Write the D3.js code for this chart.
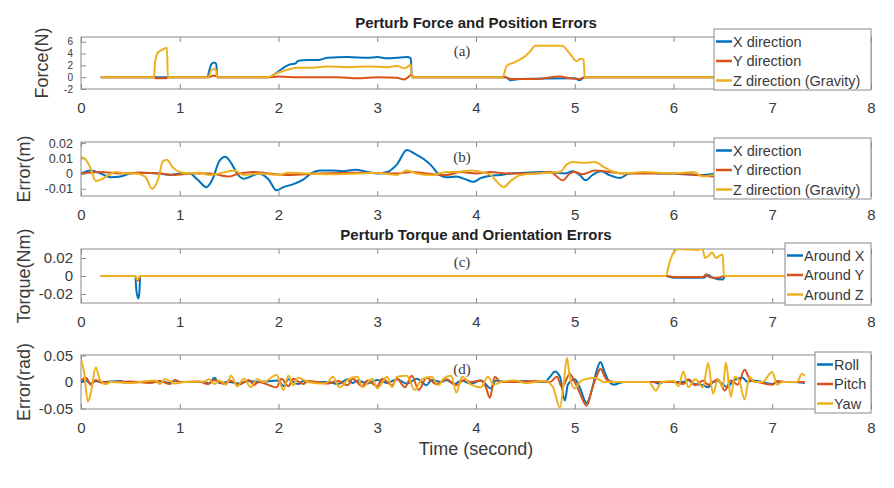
<!DOCTYPE html>
<html><head><meta charset="utf-8">
<script src="https://cdn.jsdelivr.net/npm/d3@7"></script>
<style>body{margin:0;background:#fff}svg{display:block}</style>
</head><body>
<svg id="c" width="894" height="488"></svg>
<script>
// ---------- data ----------
const xTicks = [0,1,2,3,4,5,6,7,8];
const colors = ["#0072BD","#D95319","#EDB120"];

// (a) Force (N)
const aTicks = [-2,0,2,4,6];
const aLegend = ["X direction","Y direction","Z direction (Gravity)"];
const aX = [[0.2,0],[1.28,0],[1.3,1.2],[1.32,2.2],[1.35,2.5],[1.37,2.2],[1.38,0],[1.9,0],[2.0,1.0],[2.07,1.8],[2.12,2.2],[2.17,2.3],[2.2,2.8],[2.3,2.9],[2.4,2.9],[2.5,3.3],[2.7,3.4],[2.9,3.3],[3.0,3.4],[3.1,3.2],[3.2,3.3],[3.3,3.4],[3.34,3.2],[3.35,0],[4.3,0],[4.35,-0.5],[4.45,-0.3],[5.0,-0.2],[5.05,-0.5],[5.1,0],[7.35,0]];
const aY = [[0.2,0],[0.74,0],[0.76,-0.2],[0.86,-0.2],[0.88,0],[1.3,0],[1.34,0.3],[1.37,0.2],[1.38,0],[1.9,0],[2.0,0.1],[2.2,0],[2.6,0],[2.8,-0.2],[3.0,0],[3.2,-0.1],[3.27,-0.4],[3.32,0.1],[3.35,0.5],[3.36,0],[4.3,0],[4.35,-0.3],[4.6,-0.3],[4.85,0.1],[4.95,-0.2],[5.05,-0.3],[5.1,0],[7.35,0]];
const aZ = [[0.2,0],[0.74,0],[0.75,2.5],[0.78,4.2],[0.82,4.6],[0.87,5.0],[0.88,0],[1.29,0],[1.32,1.2],[1.35,1.4],[1.37,1.1],[1.38,0],[1.88,0],[2.0,0.8],[2.1,1.3],[2.2,1.6],[2.3,1.6],[2.5,1.8],[2.7,1.7],[2.9,1.8],[3.1,1.7],[3.2,1.9],[3.28,1.5],[3.34,2.1],[3.35,0],[4.27,0],[4.31,1.9],[4.4,2.6],[4.5,3.6],[4.55,4.4],[4.6,5.3],[4.87,5.3],[4.95,4.0],[5.02,2.7],[5.06,3.1],[5.09,3.0],[5.1,0],[7.35,0]];

// (b) Position error (m)
const bTicks = [-0.01,0,0.01,0.02];
const bLegend = ["X direction","Y direction","Z direction (Gravity)"];
const bX = [[0,0],[0.1,0.002],[0.2,0],[0.3,-0.0025],[0.4,-0.002],[0.5,0],[0.6,0.0005],[0.8,0],[0.9,-0.001],[1.0,0],[1.1,0],[1.18,-0.004],[1.27,-0.009],[1.33,-0.004],[1.4,0.008],[1.46,0.011],[1.52,0.007],[1.58,0],[1.65,-0.0035],[1.72,-0.002],[1.8,0],[1.9,-0.004],[1.98,-0.011],[2.05,-0.009],[2.15,-0.007],[2.25,-0.004],[2.33,0],[2.42,0.002],[2.55,0.002],[2.65,0.0015],[2.78,0.0025],[2.9,0.001],[3.0,0],[3.1,0.001],[3.2,0.006],[3.3,0.0155],[3.38,0.013],[3.47,0.0095],[3.55,0.005],[3.63,-0.001],[3.7,-0.0025],[3.8,-0.002],[3.9,-0.004],[3.97,-0.0055],[4.05,-0.003],[4.15,-0.0015],[4.25,-0.001],[4.35,0],[4.5,0.0005],[4.65,0.001],[4.8,0.0005],[4.9,0],[4.98,0.0015],[5.05,-0.001],[5.11,-0.0045],[5.18,-0.001],[5.27,0.0015],[5.35,-0.001],[5.46,-0.003],[5.55,0],[5.7,0.0005],[5.9,0],[6.1,-0.0005],[6.3,-0.001],[6.45,0],[6.7,0],[7.35,0]];
const bY = [[0,0],[0.2,0.001],[0.4,0],[0.6,0.0005],[0.8,0],[0.95,-0.001],[1.1,0],[1.3,0],[1.5,-0.002],[1.6,0],[1.75,0.001],[1.9,0],[2.1,-0.001],[2.4,0],[2.8,0.0005],[3.2,0],[3.35,0.001],[3.5,0],[3.7,-0.001],[3.85,0.001],[4.0,0],[4.15,0.001],[4.3,0],[4.6,0],[4.75,0.001],[4.88,-0.0045],[4.95,0],[5.0,0.001],[5.08,-0.0005],[5.2,0.002],[5.35,0.001],[5.5,0],[6.0,0],[6.3,-0.0015],[6.4,-0.002],[6.5,0],[7.35,0]];
const bZ = [[0,0.011],[0.05,0.009],[0.1,0.003],[0.15,-0.005],[0.2,-0.004],[0.28,-0.001],[0.35,0.001],[0.45,0],[0.55,0],[0.65,-0.002],[0.72,-0.01],[0.78,-0.004],[0.83,0.008],[0.87,0.009],[0.93,0.004],[1.0,0.001],[1.1,0],[1.2,0.0005],[1.3,-0.001],[1.4,0],[1.55,0.002],[1.65,-0.001],[1.8,0],[2.0,-0.001],[2.1,0.0005],[2.3,0],[2.5,-0.0005],[2.8,0],[3.0,0.0005],[3.2,-0.001],[3.3,0.002],[3.4,0],[3.55,-0.001],[3.7,0.001],[3.8,0.001],[3.95,0.002],[4.05,0.001],[4.15,-0.001],[4.22,-0.006],[4.28,-0.009],[4.35,-0.005],[4.45,-0.001],[4.6,0],[4.75,0.0005],[4.85,0.001],[4.92,0.006],[4.98,0.0075],[5.1,0.007],[5.2,0.0075],[5.3,0.004],[5.4,0.001],[5.5,0],[5.7,0.001],[6.0,0],[6.2,0.001],[6.3,-0.002],[6.4,-0.001],[6.5,0],[7.35,0]];

// (c) Torque (Nm)
const cTicks = [-0.02,0,0.02];
const cLegend = ["Around X","Around Y","Around Z"];
const cX = [[0.2,0],[0.55,0],[0.56,-0.015],[0.58,-0.025],[0.59,-0.02],[0.6,0],[5.93,0],[6.0,-0.002],[6.3,-0.002],[6.35,0.001],[6.4,-0.002],[6.5,-0.004],[6.52,0],[7.35,0]];
const cY = [[0.2,0],[0.55,0],[0.57,-0.005],[0.59,-0.003],[0.6,0],[5.93,0],[6.0,-0.001],[6.3,-0.001],[6.33,0.002],[6.36,-0.001],[6.45,-0.002],[6.52,0],[7.35,0]];
const cZ = [[0.2,0],[0.55,0],[0.57,-0.004],[0.6,0],[5.92,0],[5.96,0.015],[6.0,0.026],[6.05,0.03],[6.25,0.029],[6.29,0.031],[6.32,0.02],[6.35,0.022],[6.39,0.026],[6.43,0.02],[6.46,0.022],[6.5,0.024],[6.51,0],[7.35,0]];

// (d) Orientation error (rad)
const dTicks = [-0.05,0,0.05];
const dLegend = ["Roll","Pitch","Yaw"];
const dRoll = [[0,0],[0.05,0.003],[0.1,-0.003],[0.15,0.002],[0.2,0],[0.4,0.002],[0.45,-0.001],[0.6,0],[0.8,0.001],[0.9,-0.002],[0.95,0.003],[1.0,0],[1.25,0],[1.3,-0.003],[1.35,0.008],[1.4,-0.002],[1.5,0],[1.6,-0.003],[1.7,0.002],[1.8,0],[2.0,0.003],[2.05,-0.008],[2.1,0.005],[2.2,-0.004],[2.25,0.002],[2.3,0],[2.5,0],[2.6,-0.004],[2.7,0.005],[2.75,-0.002],[2.8,0.003],[2.9,-0.003],[3.0,0.004],[3.1,-0.002],[3.2,0.005],[3.3,-0.003],[3.4,0.006],[3.5,-0.006],[3.55,0.004],[3.65,0],[3.7,0.004],[3.78,-0.004],[3.85,0.003],[3.95,-0.003],[4.05,0.003],[4.15,-0.012],[4.2,0.003],[4.3,0],[4.5,0.002],[4.6,0],[4.7,0.001],[4.75,0.01],[4.8,0.02],[4.85,0.01],[4.9,-0.035],[4.93,-0.005],[5.0,0.005],[5.05,-0.01],[5.12,-0.04],[5.18,-0.01],[5.22,0.02],[5.26,0.038],[5.3,0.02],[5.35,0],[5.4,-0.005],[5.45,-0.002],[5.5,0],[5.8,0],[5.85,-0.003],[5.9,0],[6.1,0],[6.15,0.004],[6.2,-0.003],[6.3,-0.006],[6.35,-0.01],[6.4,0],[6.45,0.002],[6.5,-0.005],[6.55,-0.01],[6.6,0.002],[6.7,0.008],[6.75,0],[6.8,0.003],[6.9,0],[7.0,-0.004],[7.05,0],[7.2,0],[7.33,-0.002]];
const dPitch = [[0,0.003],[0.05,0.008],[0.1,-0.005],[0.15,0.004],[0.2,-0.001],[0.3,0],[0.5,0.001],[0.7,-0.002],[0.8,0.002],[0.9,-0.004],[0.95,0.004],[1.0,0],[1.2,0.001],[1.28,-0.004],[1.35,0.004],[1.45,-0.004],[1.5,0.003],[1.6,-0.005],[1.7,0.004],[1.75,-0.006],[1.8,0],[1.98,-0.01],[2.03,0.006],[2.1,-0.008],[2.15,0.006],[2.25,-0.004],[2.3,0.002],[2.4,0],[2.5,-0.003],[2.6,0.002],[2.7,-0.006],[2.75,0.006],[2.85,-0.008],[2.9,0.003],[3.0,-0.008],[3.05,0.006],[3.15,-0.006],[3.2,0.006],[3.28,-0.01],[3.35,0.012],[3.42,-0.015],[3.5,0.008],[3.6,-0.004],[3.7,0.005],[3.8,-0.006],[3.88,0.004],[3.95,0],[4.05,0.003],[4.1,-0.01],[4.14,-0.03],[4.19,0.01],[4.25,0],[4.4,0],[4.6,0.002],[4.75,0],[4.82,0.01],[4.87,-0.01],[4.95,0.015],[5.0,0],[5.05,-0.02],[5.12,-0.045],[5.18,-0.01],[5.23,0.015],[5.26,0.025],[5.32,0.005],[5.4,0],[6.0,0],[6.1,-0.004],[6.15,0.005],[6.22,-0.006],[6.3,0.003],[6.35,-0.005],[6.45,0.005],[6.52,-0.016],[6.58,0.003],[6.65,-0.005],[6.72,0.023],[6.78,0.003],[6.85,0],[7.0,-0.005],[7.05,0.002],[7.15,0],[7.33,0]];
const dYaw = [[0,0.043],[0.03,0.02],[0.07,-0.037],[0.1,-0.02],[0.15,0.028],[0.19,0.005],[0.25,-0.004],[0.3,0],[0.5,-0.002],[0.6,0],[0.75,0.003],[0.8,-0.004],[0.85,0.005],[0.9,0.002],[0.95,-0.003],[1.05,0],[1.25,0.001],[1.3,0.005],[1.35,-0.004],[1.4,0.003],[1.47,-0.005],[1.52,0.012],[1.58,-0.008],[1.65,0.006],[1.72,-0.01],[1.78,0.005],[1.85,0],[1.98,0.013],[2.05,-0.015],[2.1,0.012],[2.15,-0.006],[2.2,0.008],[2.3,0],[2.45,-0.003],[2.5,0],[2.55,0.01],[2.62,-0.01],[2.7,0.004],[2.8,0.01],[2.85,-0.01],[2.95,0.006],[3.0,-0.012],[3.1,0.01],[3.15,-0.01],[3.2,0.01],[3.3,0.012],[3.38,-0.015],[3.45,0.005],[3.55,0.01],[3.62,-0.006],[3.68,0.008],[3.75,0.012],[3.8,-0.02],[3.86,0.01],[3.95,-0.005],[4.05,-0.01],[4.12,0.01],[4.18,-0.005],[4.25,0],[4.4,0.003],[4.5,-0.002],[4.6,0],[4.7,0.002],[4.78,-0.01],[4.85,-0.048],[4.89,0],[4.92,0.046],[4.95,0.01],[5.0,-0.012],[5.05,0],[5.1,0.005],[5.2,0.008],[5.3,0],[5.5,0],[5.75,0],[5.82,-0.016],[5.88,0],[6.0,0.002],[6.05,-0.008],[6.1,0.02],[6.15,-0.01],[6.22,0.005],[6.3,-0.01],[6.35,0.036],[6.4,-0.022],[6.45,0.005],[6.5,-0.01],[6.53,0.037],[6.58,-0.028],[6.62,0.01],[6.67,0],[6.72,-0.033],[6.77,0.01],[6.82,0],[6.9,0],[7.0,0.019],[7.05,-0.005],[7.1,0],[7.25,0],[7.3,0.015],[7.33,0.012]];

// ---------- drawing ----------
const svg = d3.select("#c");
const FONT = "'Liberation Sans', Arial, Helvetica, sans-serif";
const AX = "#8a8a8a", TXT = "#3a3a3a";
const x = d3.scaleLinear().domain([0,8]).range([81,871]);

function panel(cfg){
  const y = d3.scaleLinear().domain(cfg.ydom).range([cfg.bottom, cfg.top]);
  const g = svg.append("g");
  const id = "clip" + cfg.label;
  svg.append("clipPath").attr("id", id).append("rect")
    .attr("x", x.range()[0]).attr("y", cfg.top)
    .attr("width", x.range()[1]-x.range()[0]).attr("height", cfg.bottom-cfg.top);
  g.append("rect").attr("x", x.range()[0]).attr("y", cfg.top)
    .attr("width", x.range()[1]-x.range()[0]).attr("height", cfg.bottom-cfg.top)
    .attr("fill","#fff").attr("stroke",AX).attr("stroke-width",1);
  const xb = g.append("g").attr("transform",`translate(0,${cfg.bottom})`)
    .call(d3.axisBottom(x).tickValues(xTicks).tickSizeInner(-5).tickSizeOuter(0).tickPadding(13));
  const xt = g.append("g").attr("transform",`translate(0,${cfg.top})`)
    .call(d3.axisTop(x).tickValues(xTicks).tickSizeInner(-5).tickSizeOuter(0).tickFormat(""));
  const yl = g.append("g").attr("transform",`translate(${x.range()[0]},0)`)
    .call(d3.axisLeft(y).tickValues(cfg.yticks).tickSizeInner(-5).tickSizeOuter(0).tickPadding(8).tickFormat(d=>String(d)));
  [xb,xt,yl].forEach(a=>{
    a.select(".domain").remove();
    a.selectAll("line").attr("stroke",AX);
    a.selectAll("text").attr("fill",TXT).style("font-family",FONT).style("font-size","15px");
  });
  if (cfg.ytickSize) yl.selectAll("text").style("font-size",cfg.ytickSize);
  const line = d3.line().x(d=>x(d[0])).y(d=>y(d[1])).curve(d3.curveMonotoneX);
  const lg = g.append("g").attr("clip-path",`url(#${id})`);
  cfg.series.forEach((s,i)=>{
    lg.append("path").datum(s).attr("d",line).attr("fill","none")
      .attr("stroke",colors[i]).attr("stroke-width",2).attr("stroke-linejoin","round");
  });
  g.append("text").attr("x",462).attr("y",cfg.plabY).attr("text-anchor","middle")
    .style("font-family","'Liberation Serif','Times New Roman',serif").style("font-size","15px")
    .attr("fill",TXT).text("("+cfg.label+")");
  g.append("text").attr("transform",`translate(${cfg.ylabX},${(cfg.top+cfg.bottom)/2}) rotate(-90)`)
    .attr("text-anchor","middle").style("font-family",FONT).style("font-size","18px")
    .attr("fill",TXT).text(cfg.ylabel);
  const L = cfg.leg;
  const lgd = g.append("g");
  lgd.append("rect").attr("x",L.x).attr("y",L.y).attr("width",L.w).attr("height",L.h)
    .attr("fill","#fff").attr("stroke",AX).attr("stroke-width",1);
  cfg.legend.forEach((t,i)=>{
    const cy = L.y + 12.5 + i*19.5;
    lgd.append("line").attr("x1",L.x+2).attr("x2",L.x+18).attr("y1",cy).attr("y2",cy)
      .attr("stroke",colors[i]).attr("stroke-width",2.5);
    lgd.append("text").attr("x",L.x+19).attr("y",cy).attr("dy","0.35em")
      .style("font-family",FONT).style("font-size","14.5px").attr("fill",TXT).text(t);
  });
}

panel({label:"a", top:37, bottom:89, ydom:[-2,6.8], yticks:aTicks, ytickSize:"10px",
  series:[aX,aY,aZ], legend:aLegend, ylabel:"Force(N)", ylabX:48, plabY:56,
  leg:{x:714,y:29,w:157,h:61}});
panel({label:"b", top:142, bottom:196, ydom:[-0.0148,0.0207], yticks:bTicks, ytickSize:"12.5px",
  series:[bX,bY,bZ], legend:bLegend, ylabel:"Error(m)", ylabX:30, plabY:162,
  leg:{x:714,y:138,w:157,h:61}});
panel({label:"c", top:249, bottom:303, ydom:[-0.03,0.03], yticks:cTicks,
  series:[cX,cY,cZ], legend:cLegend, ylabel:"Torque(Nm)", ylabX:30, plabY:267,
  leg:{x:785,y:243,w:86,h:62}});
panel({label:"d", top:355, bottom:409, ydom:[-0.051,0.051], yticks:dTicks,
  series:[dRoll,dPitch,dYaw], legend:dLegend, ylabel:"Error(rad)", ylabX:30, plabY:374,
  leg:{x:815,y:352,w:56,h:61}});

svg.append("text").attr("x",476).attr("y",28).attr("text-anchor","middle")
  .style("font-family",FONT).style("font-size","15px").style("font-weight","bold")
  .attr("fill","#222").text("Perturb Force and Position Errors");
svg.append("text").attr("x",476).attr("y",240).attr("text-anchor","middle")
  .style("font-family",FONT).style("font-size","15px").style("font-weight","bold")
  .attr("fill","#222").text("Perturb Torque and Orientation Errors");
svg.append("text").attr("x",476).attr("y",455).attr("text-anchor","middle")
  .style("font-family",FONT).style("font-size","18px").attr("fill",TXT).text("Time (second)");
</script>
</body></html>
